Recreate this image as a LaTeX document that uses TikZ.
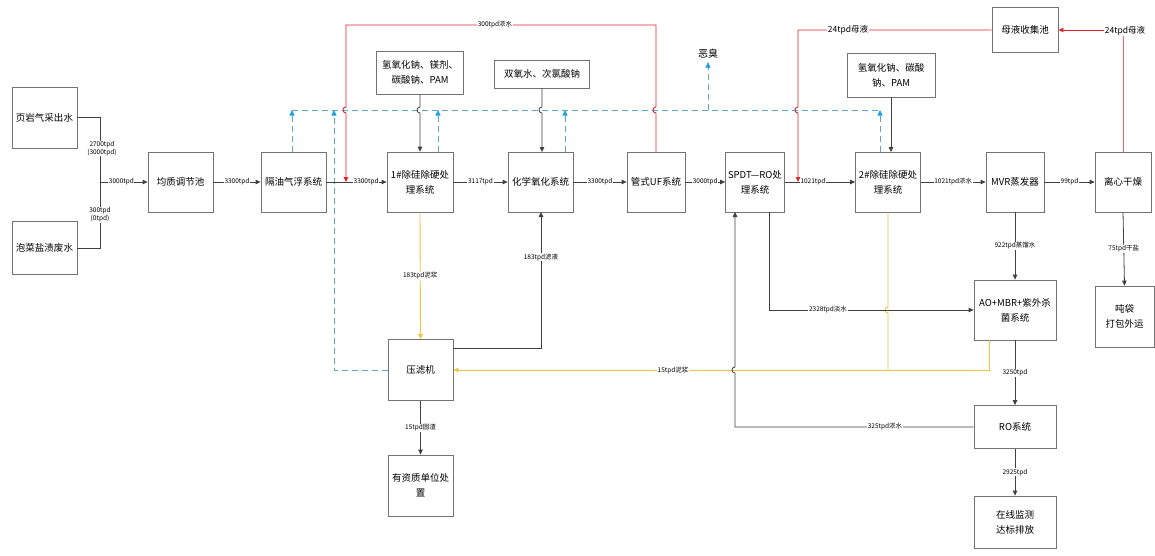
\documentclass[tikz,border=0pt]{standalone}
\usepackage{fontspec}
\newfontfamily\cjk{Noto Sans CJK SC}
\usetikzlibrary{arrows.meta}
\definecolor{lred}{RGB}{228,35,40}
\definecolor{lyel}{RGB}{240,195,60}
\definecolor{lblue}{RGB}{95,165,205}
\definecolor{bblue}{RGB}{30,160,220}
\definecolor{lgray}{RGB}{115,115,115}
\begin{document}
\begin{tikzpicture}[x=1pt,y=-1pt,
 box/.style={draw=lgray, line width=0.8pt, align=center, fill=white,
   font=\cjk\fontsize{9.5}{15}\selectfont, inner sep=1pt},
 lbl/.style={fill=white, inner sep=0.6pt, align=center, font=\cjk\fontsize{6.5}{8}\selectfont},
 ln/.style={draw=black!75, line width=0.8pt},
 arr/.style={ln, -{Triangle[length=5pt,width=4.5pt]}},
 rl/.style={draw=lred, line width=0.9pt},
 rarr/.style={rl, -{Triangle[length=5pt,width=4.5pt]}},
 yline/.style={draw=lyel, line width=0.9pt},
 yarr/.style={yline, -{Triangle[length=5pt,width=4.5pt]}},
 bd/.style={draw=lblue, line width=0.8pt, dash pattern=on 6pt off 4pt},
 barr/.style={bd, -{Triangle[length=5.5pt,width=5pt,color=bblue]}}]
\useasboundingbox[fill=white] (0,0) rectangle (1155,555);

% boxes
\node[box, minimum width=65pt, minimum height=61pt] (ye) at (44.5,117.5) {页岩气采出水};
\node[box, minimum width=65pt, minimum height=53pt] (pao) at (44.5,248) {泡菜盐渍废水};
\node[box, minimum width=65pt, minimum height=60pt] (jz) at (180.5,182) {均质调节池};
\node[box, minimum width=65pt, minimum height=60pt] (gy) at (293.5,182) {隔油气浮系统};
\node[box, minimum width=66pt, minimum height=60pt] (c1) at (420,182) {1\#除硅除硬处\\理系统};
\node[box, minimum width=87pt, minimum height=43pt] (r1) at (420,72.5) {氢氧化钠、镁剂、\\碳酸钠、PAM};
\node[box, minimum width=65pt, minimum height=60pt] (hx) at (540.5,182) {化学氧化系统};
\node[box, minimum width=95pt, minimum height=28pt] (r2) at (542,74) {双氧水、次氯酸钠};
\node[box, minimum width=58pt, minimum height=60pt] (uf) at (656,182) {管式UF系统};
\node[box, minimum width=59pt, minimum height=60pt] (spdt) at (755,182) {SPDT—RO处\\理系统};
\node[box, minimum width=65pt, minimum height=60pt] (c2) at (888,182) {2\#除硅除硬处\\理系统};
\node[box, minimum width=88pt, minimum height=44pt] (r3) at (891,75) {氢氧化钠、碳酸\\钠、PAM};
\node[box, minimum width=58pt, minimum height=60pt] (mvr) at (1015,182) {MVR蒸发器};
\node[box, minimum width=56pt, minimum height=60pt] (lx) at (1123,182) {离心干燥};
\node[box, minimum width=66pt, minimum height=45pt] (my) at (1025,30) {母液收集池};
\node[box, minimum width=82pt, minimum height=60pt] (ao) at (1015,310) {AO+MBR+紫外杀\\菌系统};
\node[box, minimum width=59pt, minimum height=61pt] (dd) at (1124.5,316.5) {吨袋\\打包外运};
\node[box, minimum width=82pt, minimum height=43pt] (ro) at (1015,427) {RO系统};
\node[box, minimum width=82pt, minimum height=52pt] (zx) at (1015,522) {在线监测\\达标排放};
\node[box, minimum width=65pt, minimum height=61pt] (yl) at (420.5,370) {压滤机};
\node[box, minimum width=65pt, minimum height=61pt] (yz) at (420.5,485.5) {有资质单位处\\置};
\node[font=\cjk\fontsize{10}{12}\selectfont] (eo) at (708,54) {恶臭};

% inflow junction
\coordinate (J) at (100,182);
\draw[ln] (ye.east) -| (J);
\draw[ln] (pao.east) -| (J);
\draw[arr] (J) -- (jz.west) node[lbl, pos=0.45] {3000tpd};
\node[lbl] at (102,148.5) {2700tpd\\(3000tpd)};
\node[lbl] at (100,215) {300tpd\\(0tpd)};

% blue dashed gas lines
\coordinate (bL) at (292,110);
\coordinate (bR) at (880,110);
\draw[bd] (bL) -- (bR);
\draw[barr] (gy.north -| bL) -- (bL);
\draw[barr] (yl.west) -| (334,110);
\draw[barr] (438,152) -- (438,110);
\draw[barr] (565,152) -- (565,110);
\draw[barr] (880,152) -- (bR);
\draw[barr] (708,110) -- (eo.south);

% main line
\draw[arr] (jz.east) -- (gy.west) node[lbl, midway] {3300tpd};
\draw[arr] (gy.east) -- (c1.west) node[lbl, pos=0.66] {3300tpd};
\draw[arr] (c1.east) -- (hx.west) node[lbl, midway] {3117tpd};
\draw[arr] (hx.east) -- (uf.west) node[lbl, midway] {3300tpd};
\draw[arr] (uf.east) -- (spdt.west) node[lbl, midway] {3000tpd};
\draw[arr] (spdt.east) -- (c2.west) node[lbl, pos=0.4] {1021tpd};
\draw[arr] (c2.east) -- (mvr.west) node[lbl, midway] {1021tpd浓水};
\draw[arr] (mvr.east) -- (lx.west) node[lbl, midway] {99tpd};

% reagents
\draw[arr] (r1.south) -- (420,107) .. controls (416,107) and (416,113) .. (420,113) -- (c1.north);
\draw[arr] (r2.south) -- (542,107) .. controls (538,107) and (538,113) .. (542,113) -- (542,152);
\draw[arr] (r3.south) -- (891,152);

% red recycle lines
\draw[rarr] (uf.north) -- (656,113) .. controls (652,113) and (652,107) .. (656,107) -- (656,25) -- (346,25) -- (346,107) .. controls (342,107) and (342,113) .. (346,113) -- (346,182);
\node[lbl] at (495,25) {300tpd浓水};
\draw[rarr] (my.west) -- (798,30) -- (798,107) .. controls (794,107) and (794,113) .. (798,113) -- (798,182);
\node[lbl, font=\cjk\fontsize{8.5}{10}\selectfont] at (848,30) {24tpd母液};
\draw[draw=lred!70, line width=0.7pt] (lx.north) -- (lx.north |- my.east);
\draw[rarr] (lx.north |- my.east) -- (my.east);
\node[lbl, font=\cjk\fontsize{8.5}{10}\selectfont] at (1125,31) {24tpd母液};

% sludge lines
\draw[yarr] (c1.south) -- (yl.north) node[lbl, pos=0.5] {183tpd泥浆};
\draw[yline] (888,212) -- (888,307) .. controls (884,307) and (884,313) .. (888,313) -- (888,370);
\draw[yarr] (989,340) -- (989,370) -- (yl.east) node[lbl, pos=0.59] {15tpd泥浆};

% filtrate and solids
\draw[arr] (453,348) -- (541,348) -- (541,212);
\node[lbl] at (541,257) {183tpd滤液};
\draw[arr] (yl.south) -- (yz.north) node[lbl, pos=0.5] {15tpd固渣};

% RO branch
\draw[arr] (769,212) -- (769,310) -- (ao.west);
\node[lbl] at (828,310) {2328tpd淡水};
\draw[arr] (ro.west) -- (735,427) -- (735,373) .. controls (731,373) and (731,367) .. (735,367) -- (735,212);
\node[lbl] at (885,427) {325tpd浓水};
\draw[arr] (mvr.south) -- (ao.north) node[lbl, pos=0.5] {922tpd蒸馏水};
\draw[arr] (ao.south) -- (ro.north) node[lbl, pos=0.5] {3250tpd};
\draw[arr] (ro.south) -- (zx.north) node[lbl, pos=0.5] {2925tpd};
\draw[arr] (lx.south) -- (dd.north) node[lbl, pos=0.5] {75tpd干盐};
\end{tikzpicture}
\end{document}
